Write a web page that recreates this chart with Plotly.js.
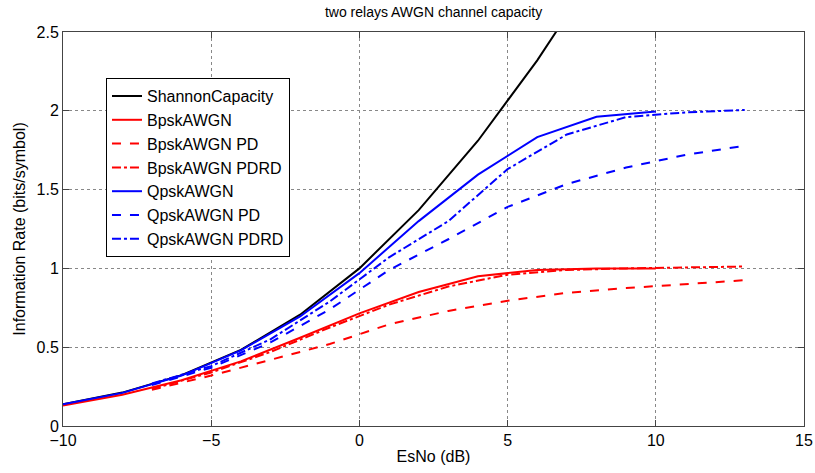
<!DOCTYPE html>
<html>
<head>
<meta charset="utf-8">
<script src="https://cdn.plot.ly/plotly-3.0.1.min.js"></script>
<style>html,body{margin:0;padding:0;background:#fff;}#chart{width:815px;height:473px;}</style>
</head>
<body>
<div id="chart"></div>
<script>
// EsNo grids (dB)
const esnoFull = [-10, -8, -6, -4, -2, 0, 2, 4, 6, 8, 10];
const esnoRelay = [-7, -5, -3, -1, 1, 3, 5, 7, 9, 11, 13];

// Series values (bits/symbol)
const shannonCapacity = [0.138, 0.212, 0.323, 0.483, 0.706, 1.0, 1.37, 1.81, 2.32, 2.87, 3.46];
const bpskAWGN        = [0.13, 0.198, 0.29, 0.41, 0.56, 0.715, 0.85, 0.95, 0.99, 1.0, 1.0];
const bpskAWGN_PD     = [0.23, 0.32, 0.42, 0.52, 0.645, 0.73, 0.795, 0.845, 0.875, 0.90, 0.925];
const bpskAWGN_PDRD   = [0.235, 0.34, 0.47, 0.625, 0.77, 0.885, 0.96, 0.99, 1.0, 1.005, 1.012];
const qpskAWGN        = [0.138, 0.21, 0.32, 0.48, 0.695, 0.97, 1.30, 1.595, 1.833, 1.962, 1.995];
const qpskAWGN_PD     = [0.26, 0.37, 0.53, 0.74, 0.99, 1.185, 1.39, 1.535, 1.64, 1.72, 1.778];
const qpskAWGN_PDRD   = [0.27, 0.38, 0.55, 0.79, 1.07, 1.30, 1.63, 1.85, 1.96, 1.99, 2.005];

const legendNames = ['ShannonCapacity', 'BpskAWGN', 'BpskAWGN PD', 'BpskAWGN PDRD',
                     'QpskAWGN', 'QpskAWGN PD', 'QpskAWGN PDRD'];
const xTickVals = [-10, -5, 0, 5, 10, 15];
const yTickVals = [0, 0.5, 1, 1.5, 2, 2.5];

function tr(x, y, name, color, dash) {
  return {x: x, y: y, name: name, type: 'scatter', mode: 'lines',
          line: {color: color, width: 2, dash: dash}};
}

const data = [
  tr(esnoFull, shannonCapacity, legendNames[0], '#000000', 'solid'),
  tr(esnoFull, bpskAWGN, legendNames[1], '#ff0000', 'solid'),
  tr(esnoRelay, bpskAWGN_PD, legendNames[2], '#ff0000', 'dash'),
  tr(esnoRelay, bpskAWGN_PDRD, legendNames[3], '#ff0000', 'dashdot'),
  tr(esnoFull, qpskAWGN, legendNames[4], '#0000ff', 'solid'),
  tr(esnoRelay, qpskAWGN_PD, legendNames[5], '#0000ff', 'dash'),
  tr(esnoRelay, qpskAWGN_PDRD, legendNames[6], '#0000ff', 'dashdot')
];

const axisCommon = {
  showline: true, linecolor: '#444', linewidth: 1, mirror: 'ticks',
  ticks: 'inside', ticklen: 6, tickcolor: '#444',
  showgrid: true, gridcolor: '#888', griddash: 'dot', gridwidth: 1,
  zeroline: false, tickfont: {size: 16, color: '#000'}
};

const layout = {
  width: 815, height: 473,
  margin: {l: 63, r: 11, t: 32, b: 47},
  paper_bgcolor: '#fff', plot_bgcolor: '#fff',
  font: {family: 'Liberation Sans, Arial, sans-serif', size: 14, color: '#000'},
  title: {text: 'two relays AWGN channel capacity', font: {size: 14, color: '#000'},
          x: 0.532, xanchor: 'center', y: 0.975, yanchor: 'middle'},
  xaxis: Object.assign({}, axisCommon, {
    range: [-10, 15], tickvals: xTickVals,
    title: {text: 'EsNo (dB)', font: {size: 16}, standoff: 2}
  }),
  yaxis: Object.assign({}, axisCommon, {
    range: [0, 2.5], tickvals: yTickVals,
    title: {text: 'Information Rate (bits/symbol)', font: {size: 16}, standoff: 6}
  }),
  showlegend: true,
  legend: {
    x: 0.058, y: 0.883, xanchor: 'left', yanchor: 'top',
    bgcolor: '#fff', bordercolor: '#000', borderwidth: 1,
    font: {size: 16, color: '#000'}, traceorder: 'normal'
  }
};

Plotly.newPlot('chart', data, layout, {displayModeBar: false, staticPlot: true});
</script>
</body>
</html>
